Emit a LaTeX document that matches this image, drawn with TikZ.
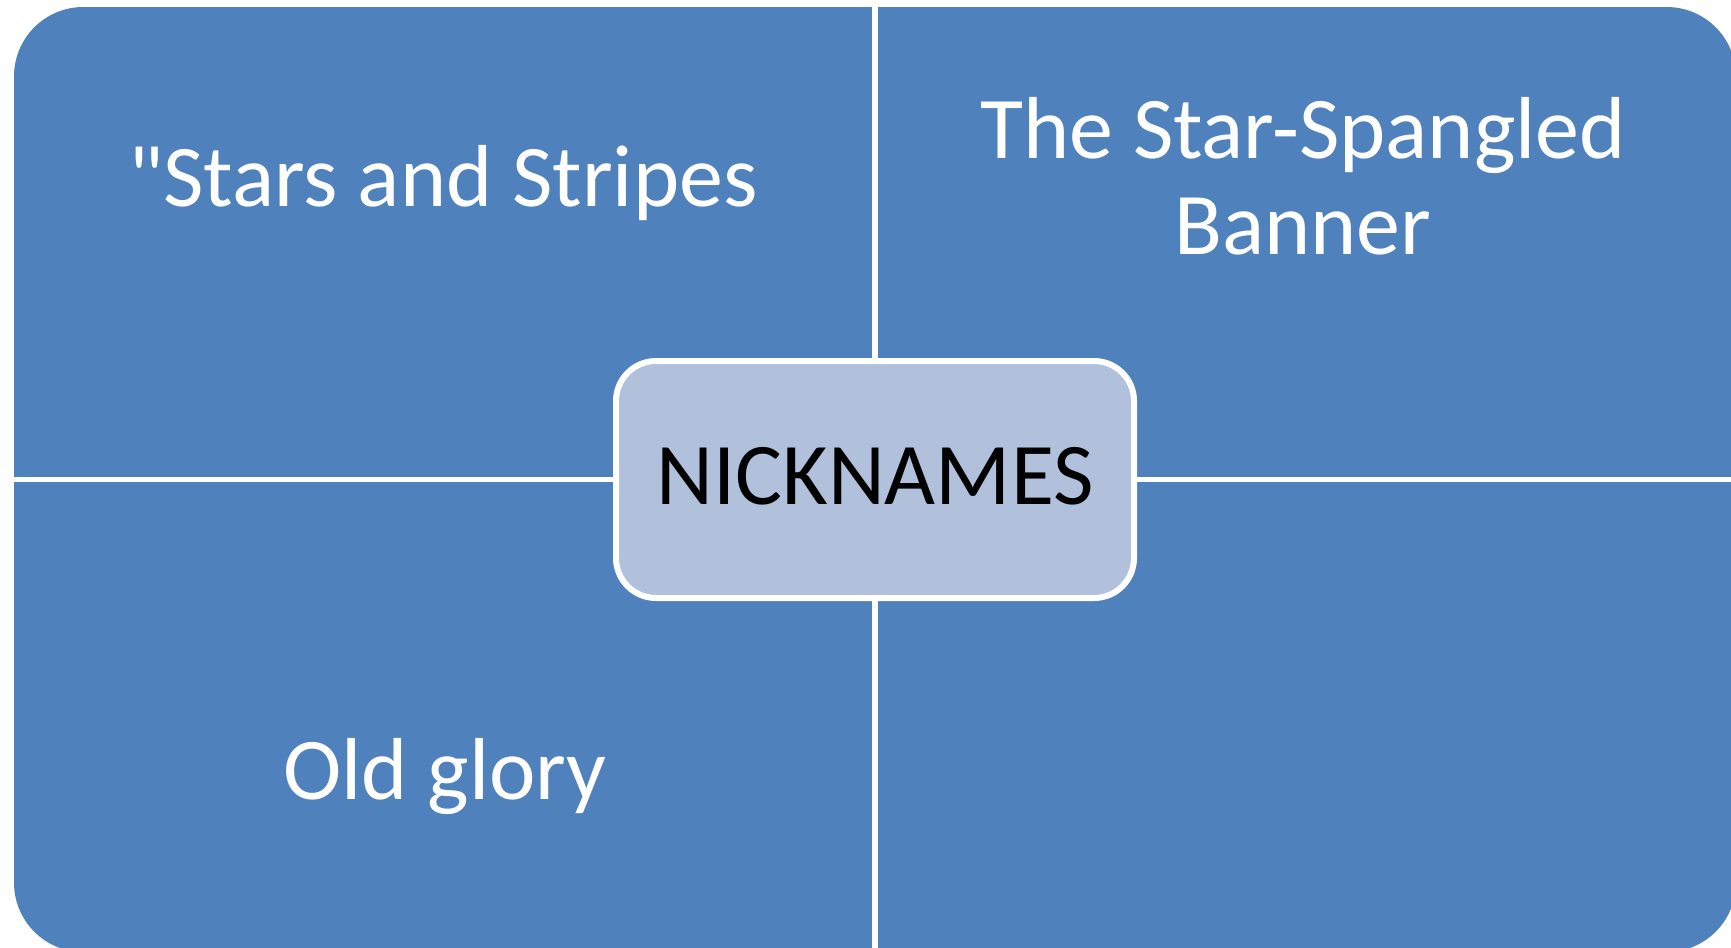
\documentclass[tikz,border=0pt]{standalone}
\usepackage{fontspec}
\setmainfont{Carlito}
\usepackage{tikz}
\usetikzlibrary{positioning}

\definecolor{quadblue}{RGB}{79,129,189}
\definecolor{centerblue}{RGB}{177,193,219}

\tikzset{
  quadtext/.style={text=white,font=\fontsize{66}{72}\selectfont,align=center,anchor=base,inner sep=0pt},
  centerbox/.style={draw=white,line width=4.5pt,fill=centerblue,rounded corners=30pt,
    minimum width=388.5pt,minimum height=177.75pt,inner sep=0pt},
  divider/.style={draw=white,line width=4.5pt}
}

\begin{document}
\begin{tikzpicture}[x=0.75pt,y=0.75pt,yscale=-1,xscale=1]
\useasboundingbox (0,0) rectangle (1731,947);

%Shape: Rounded Rect [id:quadrants]
\fill [quadblue,rounded corners=52pt] (14,7) rectangle (1736,952);

%Straight Lines [id:dividers]
\coordinate (vtop) at (875,0);
\coordinate (vbot) at (875,960);
\coordinate (hleft) at (0,479.5);
\coordinate (hright) at (1740,479.5);
\draw [divider] (vtop) -- (vbot);
\draw [divider,line width=3.75pt] (hleft) -- (hright);

% Text Node
\node [centerbox] (nick) at (875,479.5) {};
\node [quadtext,text=black] (nicklabel) at (875,504) {NICKNAMES};

% Text Node
\node [quadtext] (stars) at (443,206) {\textquotedbl Stars and Stripes};
% Text Node
\node [quadtext] (banner) at (1303,254) {The Star-Spangled\\Banner};
% Text Node
\node [quadtext] (glory) at (445,799) {Old glory};

\end{tikzpicture}
\end{document}
